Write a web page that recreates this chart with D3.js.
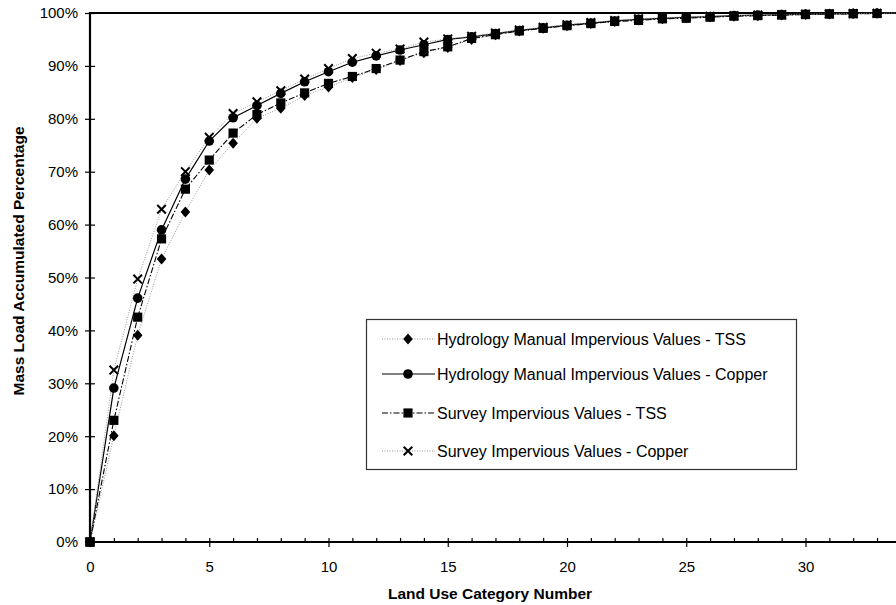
<!DOCTYPE html>
<html>
<head>
<meta charset="utf-8">
<script src="https://cdn.jsdelivr.net/npm/d3@7"></script>
<style>
  body { margin: 0; background: #fff; }
  svg { display: block; font-family: "Liberation Sans", Arial, Helvetica, sans-serif; }
</style>
</head>
<body>
<svg id="chart" width="896" height="605"></svg>
<script>
(function(){
const width = 896;
const height = 605;

// --- Data ---
const categories = d3.range(0, 35);

const hydroTSS = [0, 20.1, 39.1, 53.5, 62.4, 70.3, 75.4, 80.1, 82.0, 84.4, 86.0, 87.8, 89.3, 91.0, 92.5, 93.5, 95.0, 95.9, 96.6, 97.1, 97.6, 98.0, 98.4, 98.7, 98.9, 99.1, 99.3, 99.4, 99.5, 99.6, 99.7, 99.8, 99.9, 99.95, 100];
const hydroCopper = [0, 29.1, 46.1, 59.0, 68.6, 75.8, 80.2, 82.5, 84.8, 87.0, 88.9, 90.7, 91.9, 93.0, 94.0, 95.0, 95.5, 96.1, 96.7, 97.2, 97.7, 98.1, 98.5, 98.8, 99.0, 99.2, 99.3, 99.5, 99.6, 99.7, 99.8, 99.85, 99.9, 99.95, 100];
const surveyTSS = [0, 23.0, 42.5, 57.3, 66.7, 72.2, 77.3, 80.8, 83.0, 84.9, 86.7, 88.0, 89.5, 91.1, 92.7, 93.6, 95.2, 95.9, 96.6, 97.1, 97.6, 98.0, 98.4, 98.6, 98.9, 99.0, 99.2, 99.4, 99.5, 99.6, 99.7, 99.8, 99.85, 99.9, 100];
const surveyCopper = [0, 32.5, 49.7, 62.9, 70.0, 76.5, 81.0, 83.2, 85.3, 87.5, 89.5, 91.4, 92.4, 93.2, 94.5, 95.1, 95.6, 96.2, 96.8, 97.3, 97.8, 98.2, 98.6, 98.9, 99.1, 99.3, 99.4, 99.5, 99.6, 99.7, 99.8, 99.85, 99.9, 99.95, 100];

const seriesNames = [
  "Hydrology Manual Impervious Values - TSS",
  "Hydrology Manual Impervious Values - Copper",
  "Survey Impervious Values - TSS",
  "Survey Impervious Values - Copper"
];

const xTicks = [0, 5, 10, 15, 20, 25, 30];
const yTicks = [0, 0.1, 0.2, 0.3, 0.4, 0.5, 0.6, 0.7, 0.8, 0.9, 1.0];

// --- Styles per series ---
const styles = [
  { values: hydroTSS, marker: "diamond", stroke: "#999", width: 1, dash: "1,1.5" },
  { values: hydroCopper, marker: "circle", stroke: "#000", width: 1.2, dash: null },
  { values: surveyTSS, marker: "square", stroke: "#000", width: 1.1, dash: "6,2,1.5,2" },
  { values: surveyCopper, marker: "x", stroke: "#999", width: 1, dash: "1,1.5" }
];

const svg = d3.select("#chart");

// --- Scales ---
const x = d3.scaleLinear().domain([0, 34]).range([90, 90 + 34 * 23.85]);
const y = d3.scaleLinear().domain([0, 1]).range([542, 13]);

// --- Markers ---
function markerPath(type) {
  if (type === "diamond") return "M0,-5.5L4.8,0L0,5.5L-4.8,0Z";
  if (type === "circle") return d3.symbol(d3.symbolCircle, 72)();
  if (type === "square") return d3.symbol(d3.symbolSquare, 84)();
  return "M-4.3,-4.3L4.3,4.3M-4.3,4.3L4.3,-4.3";
}
function drawMarker(g, type) {
  const p = g.append("path").attr("d", markerPath(type));
  if (type === "x") p.attr("fill", "none").attr("stroke", "#000").attr("stroke-width", 2);
  else p.attr("fill", "#000");
  return p;
}

// --- Top border ---
svg.append("line")
  .attr("x1", x(0)).attr("x2", width)
  .attr("y1", y(1)).attr("y2", y(1))
  .attr("stroke", "#000").attr("stroke-width", 2);

// --- Series lines ---
const line = d3.line()
  .x((d, i) => x(categories[i]))
  .y(d => y(d / 100));

styles.forEach(s => {
  svg.append("path")
    .datum(s.values)
    .attr("d", line)
    .attr("fill", "none")
    .attr("stroke", s.stroke)
    .attr("stroke-width", s.width)
    .attr("stroke-dasharray", s.dash);
});

// --- Series markers ---
styles.forEach(s => {
  const g = svg.append("g");
  s.values.forEach((v, i) => {
    const m = g.append("g").attr("transform", `translate(${x(categories[i])},${y(v / 100)})`);
    drawMarker(m, s.marker);
  });
});

// --- X axis ---
const xMinor = svg.append("g")
  .attr("transform", `translate(0,${y(0)})`)
  .call(d3.axisTop(x).tickValues(categories).tickSize(4).tickFormat(""));
xMinor.select(".domain").remove();

const xAxis = svg.append("g")
  .attr("transform", `translate(0,${y(0)})`)
  .call(d3.axisBottom(x).tickValues(xTicks).tickSize(5).tickPadding(14).tickFormat(d3.format("d")));
xAxis.select(".domain").remove();
xAxis.selectAll("text").attr("font-size", 15).attr("font-family", null).attr("fill", "#000");
svg.selectAll(".tick line").attr("stroke", "#000").attr("stroke-width", 1.2);

// --- Y axis ---
const yRight = svg.append("g")
  .attr("transform", `translate(${x(0)},0)`)
  .call(d3.axisRight(y).tickValues(yTicks).tickSize(5).tickFormat(""));
yRight.select(".domain").remove();

const yAxis = svg.append("g")
  .attr("transform", `translate(${x(0)},0)`)
  .call(d3.axisLeft(y).tickValues(yTicks).tickSize(5).tickPadding(7).tickFormat(d3.format(".0%")));
yAxis.select(".domain").remove();
yAxis.selectAll("text").attr("font-size", 15).attr("font-family", null).attr("fill", "#000");
svg.selectAll(".tick line").attr("stroke", "#000").attr("stroke-width", 1.2);

// axis lines
svg.append("line")
  .attr("x1", x(0)).attr("x2", width)
  .attr("y1", y(0)).attr("y2", y(0))
  .attr("stroke", "#000").attr("stroke-width", 2.2);
svg.append("line")
  .attr("x1", x(0)).attr("x2", x(0))
  .attr("y1", y(1) - 1).attr("y2", y(0) + 1)
  .attr("stroke", "#000").attr("stroke-width", 2.2);

// square at origin sits above the axes
svg.append("g").attr("transform", `translate(${x(0)},${y(surveyTSS[0] / 100)})`)
  .call(g => drawMarker(g, "square"));

// --- Axis titles ---
svg.append("text")
  .attr("x", 490).attr("y", 599)
  .attr("text-anchor", "middle")
  .attr("font-size", 15.5).attr("font-weight", "bold")
  .text("Land Use Category Number");

svg.append("text")
  .attr("transform", "translate(24,261) rotate(-90)")
  .attr("text-anchor", "middle")
  .attr("font-size", 15.5).attr("font-weight", "bold")
  .text("Mass Load Accumulated Percentage");

// --- Legend ---
const legend = svg.append("g");
legend.append("rect")
  .attr("x", 366.5).attr("y", 319.5)
  .attr("width", 430).attr("height", 150)
  .attr("fill", "#fff").attr("stroke", "#333").attr("stroke-width", 1.2);

const rowY = [339, 374, 413, 451];
styles.forEach((s, i) => {
  const row = legend.append("g").attr("transform", `translate(0,${rowY[i]})`);
  row.append("line")
    .attr("x1", 382).attr("x2", 435)
    .attr("stroke", s.stroke).attr("stroke-width", s.width)
    .attr("stroke-dasharray", s.dash);
  const m = row.append("g").attr("transform", "translate(408,0)");
  drawMarker(m, s.marker);
  row.append("text")
    .attr("x", 437).attr("y", 5.7)
    .attr("font-size", 16)
    .text(seriesNames[i]);
});
})();
</script>
</body>
</html>
